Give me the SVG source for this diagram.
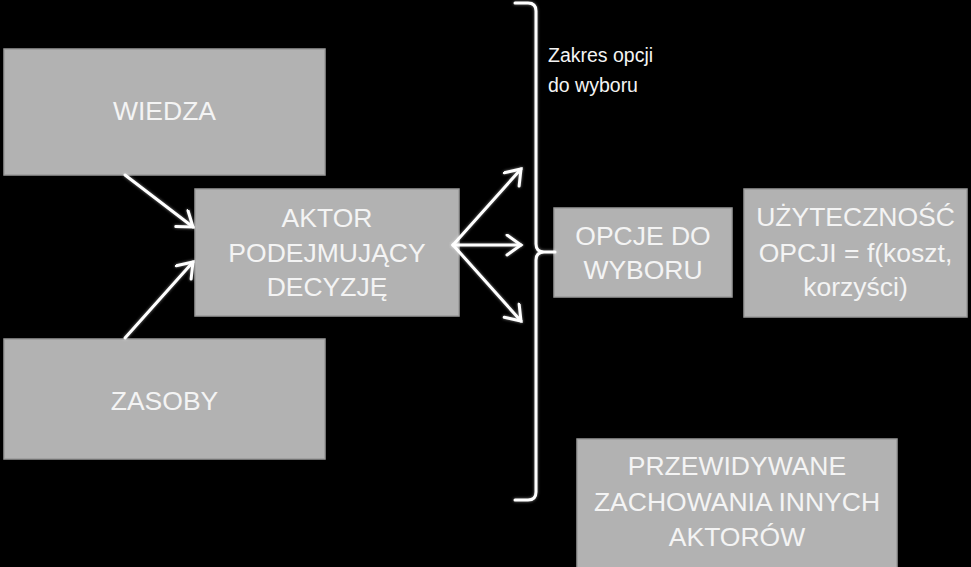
<svg xmlns="http://www.w3.org/2000/svg" width="971" height="567" viewBox="0 0 971 567">
<defs>
<style>
.box{fill:#b2b2b2;stroke:#9a9a9a;stroke-width:1.5}
.t{font-family:"Liberation Sans",Arial,sans-serif;font-size:26.5px;fill:#f4f4f4;text-anchor:middle}
.lbl{font-family:"Liberation Sans",Arial,sans-serif;font-size:19.5px;fill:#f4f4f4}
.con{stroke:#ffffff;stroke-width:3;fill:none;stroke-linecap:round;filter:url(#glow)}
</style>
<filter id="glow" filterUnits="userSpaceOnUse" x="0" y="0" width="971" height="567">
<feGaussianBlur in="SourceAlpha" stdDeviation="1.5" result="b"/>
<feFlood flood-color="#ffffff" flood-opacity="0.5"/>
<feComposite in2="b" operator="in" result="g"/>
<feMerge><feMergeNode in="g"/><feMergeNode in="SourceGraphic"/></feMerge>
</filter>
<marker id="arr" markerUnits="userSpaceOnUse" markerWidth="30" markerHeight="30" refX="17" refY="11" orient="auto">
<path d="M3,1 L17,11 L3,21" fill="none" stroke="#ffffff" stroke-width="3" stroke-linecap="round" stroke-linejoin="miter"/>
</marker>
</defs>
<rect width="971" height="567" fill="#000000"/>
<g id="wiedza"><rect class="box" x="4" y="49" width="321" height="126"/><text class="t" x="164.5" y="120">WIEDZA</text></g>
<g id="zasoby"><rect class="box" x="4" y="339" width="321" height="120"/><text class="t" x="164.5" y="410">ZASOBY</text></g>
<g id="aktor"><rect class="box" x="195" y="189" width="264" height="127"/><text class="t" x="327" y="227">AKTOR</text><text class="t" x="327" y="262">PODEJMUJĄCY</text><text class="t" x="327" y="296">DECYZJĘ</text></g>
<g id="opcje"><rect class="box" x="554" y="208" width="178" height="89"/><text class="t" x="643" y="245">OPCJE DO</text><text class="t" x="643" y="279">WYBORU</text></g>
<g id="uzytecznosc"><rect class="box" x="744" y="189" width="223" height="128"/><text class="t" x="855.5" y="226">UŻYTECZNOŚĆ</text><text class="t" x="855.5" y="262">OPCJI = f(koszt,</text><text class="t" x="855.5" y="296">korzyści)</text></g>
<g id="przewidywane"><rect class="box" x="577" y="439" width="320" height="135"/><text class="t" x="737" y="475">PRZEWIDYWANE</text><text class="t" x="737" y="511">ZACHOWANIA INNYCH</text><text class="t" x="737" y="546">AKTORÓW</text></g>
<g id="zakres"><text class="lbl" x="548" y="62">Zakres opcji</text><text class="lbl" x="548" y="92">do wyboru</text></g>
<g id="connectors">
<line class="con" x1="125" y1="175" x2="193" y2="227" marker-end="url(#arr)"/>
<line class="con" x1="125" y1="338" x2="193" y2="262" marker-end="url(#arr)"/>
<line class="con" x1="453" y1="245" x2="521" y2="169" marker-end="url(#arr)"/>
<line class="con" x1="453" y1="245" x2="521" y2="245" marker-end="url(#arr)"/>
<line class="con" x1="453" y1="245" x2="521" y2="321" marker-end="url(#arr)"/>
<path class="con" d="M515,3 H528 Q536,3 536,11 V244 Q536,252 544,252 H555 M544,252 Q536,252 536,260 V492 Q536,500 528,500 H515"/>
</g>
</svg>
